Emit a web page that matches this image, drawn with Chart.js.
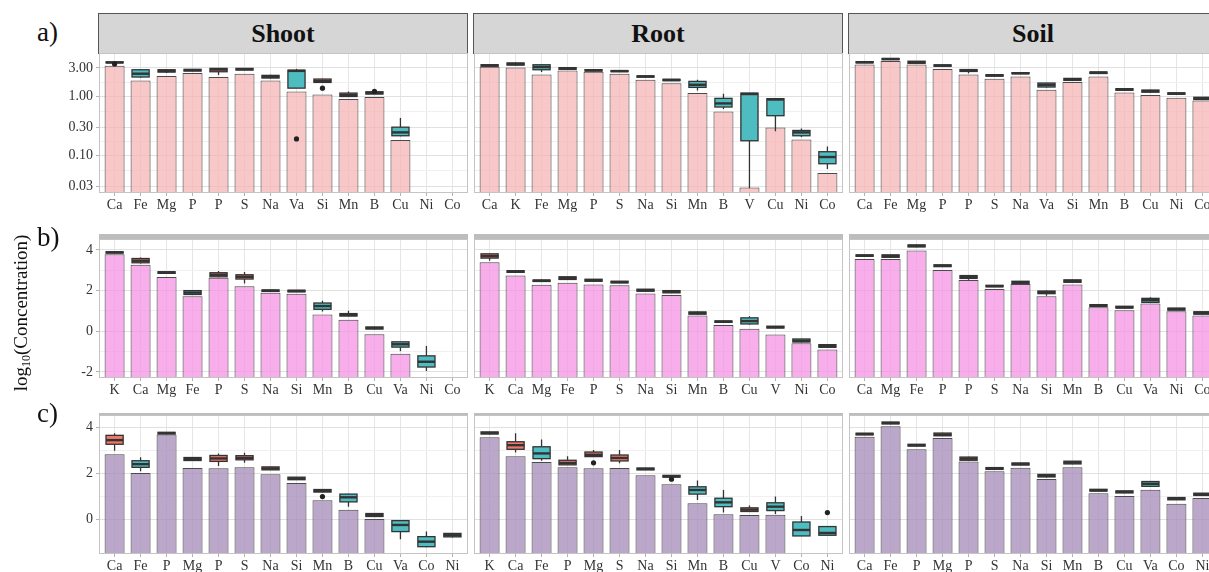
<!DOCTYPE html>
<html>
<head>
<meta charset="utf-8">
<script src="https://cdn.jsdelivr.net/npm/chart.js@4.4.1/dist/chart.umd.min.js"></script>
<style>
  html, body { margin: 0; padding: 0; background: #fff; }
  body { width: 1209px; height: 572px; overflow: hidden; position: relative;
         font-family: 'Liberation Serif', 'Times New Roman', serif; color: #1a1a1a; }
  canvas { position: absolute; }
  .strip { position: absolute; box-sizing: border-box; background: #D6D6D6;
           border: 1px solid #555; text-align: center; font-weight: bold;
           font-size: 26px; color: #111; }
  .thinstrip { position: absolute; background: #BDBDBD; }
  .tag { position: absolute; font-size: 27px; line-height: 27px; color: #111; }
  .ytitle { position: absolute; font-size: 19px; white-space: nowrap; color: #111;
            transform-origin: center center; }
  .ytitle sub { font-size: 12px; vertical-align: -3px; }
</style>
</head>
<body>
<script>
// ---------- facet titles and axis ticks ----------
const tissues = ['Shoot', 'Root', 'Soil'];
const rowTags = ['a)', 'b)', 'c)'];
const ticksA = [0.03, 0.1, 0.3, 1, 3];
const ticksB = [-2, 0, 2, 4];
const ticksC = [0, 2, 4];

// ---------- row a (log10 axis, concentrations) ----------
const shootLabelsA = ['Ca','Fe','Mg','P','P','S','Na','Va','Si','Mn','B','Cu','Ni','Co'];
const shootBarsA = [3.27, 1.85, 2.19, 2.46, 2.11, 2.40, 1.85, 1.20, 1.07, 0.90, 0.97, 0.182, null, null];
const shootBoxesA = [
  [3.62, 3.66, 3.72, 3.80, 3.84], [2.05, 2.11, 2.40, 2.80, 2.88], [2.46, 2.56, 2.66, 2.80, 2.84],
  [2.64, 2.66, 2.76, 2.84, 2.88], [2.28, 2.59, 2.82, 2.95, 2.98], [2.75, 2.77, 2.86, 2.95, 2.98],
  [2.00, 2.03, 2.12, 2.25, 2.30], [1.37, 1.37, 2.68, 2.75, 2.90], [1.71, 1.71, 1.80, 1.95, 1.98],
  [0.99, 0.99, 1.05, 1.13, 1.20], [1.09, 1.09, 1.13, 1.19, 1.19], [0.21, 0.215, 0.245, 0.30, 0.43],
  null, null];
const shootGroupsA = [1, 2, 1, 1, 1, 1, 1, 2, 1, 1, 1, 2, 0, 0];
const shootOutliersA = [[0, 3.50], [7, 0.19], [8, 1.37], [10, 1.21]];

const rootLabelsA = ['Ca','K','Fe','Mg','P','S','Na','Si','Mn','B','V','Cu','Ni','Co'];
const rootBarsA = [3.15, 3.07, 2.33, 2.73, 2.59, 2.40, 1.90, 1.65, 1.13, 0.554, 0.0288, 0.297, 0.186, 0.0504];
const rootBoxesA = [
  [3.19, 3.22, 3.30, 3.40, 3.44], [3.27, 3.35, 3.50, 3.65, 3.72], [2.56, 2.80, 3.11, 3.40, 3.45],
  [2.80, 2.85, 2.95, 3.04, 3.07], [2.62, 2.66, 2.74, 2.80, 2.84], [2.56, 2.60, 2.66, 2.70, 2.73],
  [2.08, 2.10, 2.16, 2.20, 2.22], [1.80, 1.83, 1.88, 1.93, 1.95], [1.25, 1.41, 1.56, 1.78, 1.90],
  [0.61, 0.657, 0.756, 0.92, 1.10], [0.028, 0.177, 1.09, 1.13, 1.13], [0.255, 0.469, 0.88, 0.908, 0.92],
  [0.205, 0.215, 0.245, 0.264, 0.286], [0.059, 0.0724, 0.094, 0.1155, 0.142]];
const rootGroupsA = [1, 1, 2, 1, 1, 1, 1, 1, 2, 2, 2, 2, 2, 2];
const rootOutliersA = [];

const soilLabelsA = ['Ca','Fe','Mg','P','P','S','Na','Va','Si','Mn','B','Cu','Ni','Co'];
const soilBarsA = [3.44, 3.93, 3.44, 2.88, 2.33, 1.98, 2.16, 1.29, 1.74, 2.16, 1.16, 1.05, 0.94, 0.85];
const soilBoxesA = [
  [3.64, 3.66, 3.75, 3.84, 3.87], [4.13, 4.15, 4.25, 4.33, 4.35], [3.54, 3.60, 3.75, 3.90, 3.93],
  [3.19, 3.21, 3.30, 3.38, 3.40], [2.45, 2.62, 2.72, 2.82, 2.84], [2.16, 2.18, 2.25, 2.31, 2.33],
  [2.37, 2.39, 2.45, 2.50, 2.52], [1.41, 1.43, 1.55, 1.67, 1.69], [1.83, 1.85, 1.93, 2.00, 2.03],
  [2.40, 2.42, 2.50, 2.57, 2.59], [1.25, 1.26, 1.30, 1.34, 1.35], [1.15, 1.17, 1.22, 1.27, 1.29],
  [1.06, 1.08, 1.11, 1.14, 1.16], [0.87, 0.88, 0.92, 0.96, 0.97]];
const soilGroupsA = [1, 1, 1, 1, 1, 1, 1, 2, 1, 1, 1, 1, 1, 1];
const soilOutliersA = [];

// ---------- row b (log10 values) ----------
const shootLabelsB = ['K','Ca','Mg','Fe','P','S','Na','Si','Mn','B','Cu','Va','Ni','Co'];
const shootBarsB = [3.79, 3.27, 2.67, 1.72, 2.63, 2.22, 1.90, 1.85, 0.82, 0.57, -0.15, -1.11, null, null];
const shootBoxesB = [
  [3.84, 3.85, 3.88, 3.91, 3.92], [3.33, 3.37, 3.47, 3.58, 3.63], [2.84, 2.85, 2.89, 2.93, 2.94],
  [1.78, 1.81, 1.90, 2.00, 2.03], [2.66, 2.68, 2.78, 2.88, 2.96], [2.35, 2.57, 2.68, 2.78, 2.91],
  [1.95, 1.96, 2.00, 2.03, 2.04], [1.93, 1.94, 1.98, 2.02, 2.03], [0.97, 1.08, 1.24, 1.39, 1.50],
  [0.74, 0.75, 0.80, 0.87, 1.01], [0.10, 0.11, 0.16, 0.21, 0.22], [-0.98, -0.78, -0.64, -0.52, -0.52],
  [-1.96, -1.76, -1.50, -1.21, -0.72], null];
const shootGroupsB = [1, 1, 1, 2, 1, 1, 1, 1, 2, 1, 1, 2, 2, 0];
const shootOutliersB = [];

const rootLabelsB = ['K','Ca','Mg','Fe','P','S','Na','Si','Mn','B','Cu','V','Ni','Co'];
const rootBarsB = [3.40, 2.75, 2.29, 2.39, 2.30, 2.27, 1.86, 1.78, 0.78, 0.31, 0.12, -0.16, -0.59, -0.90];
const rootBoxesB = [
  [3.47, 3.60, 3.70, 3.81, 3.84], [2.89, 2.90, 2.94, 2.98, 2.99], [2.44, 2.45, 2.49, 2.52, 2.53],
  [2.53, 2.55, 2.62, 2.68, 2.70], [2.45, 2.46, 2.51, 2.56, 2.57], [2.37, 2.38, 2.42, 2.46, 2.47],
  [1.96, 1.97, 2.02, 2.07, 2.08], [1.88, 1.89, 1.95, 2.00, 2.03], [0.83, 0.84, 0.90, 0.95, 0.97],
  [0.43, 0.44, 0.47, 0.51, 0.52], [0.32, 0.36, 0.50, 0.66, 0.74], [0.15, 0.16, 0.20, 0.25, 0.26],
  [-0.54, -0.53, -0.47, -0.38, -0.37], [-0.80, -0.79, -0.72, -0.66, -0.65]];
const rootGroupsB = [1, 1, 1, 1, 1, 1, 1, 1, 1, 1, 2, 1, 2, 1];
const rootOutliersB = [];

const soilLabelsB = ['Ca','Mg','Fe','P','P','S','Na','Si','Mn','B','Cu','Va','Ni','Co'];
const soilBarsB = [3.56, 3.56, 3.97, 3.01, 2.52, 2.08, 2.32, 1.72, 2.30, 1.18, 1.03, 1.36, 0.98, 0.77];
const soilBoxesB = [
  [3.68, 3.69, 3.72, 3.76, 3.77], [3.63, 3.64, 3.70, 3.76, 3.77], [4.14, 4.15, 4.20, 4.25, 4.26],
  [3.17, 3.18, 3.22, 3.27, 3.28], [2.53, 2.60, 2.68, 2.74, 2.76], [2.18, 2.19, 2.22, 2.26, 2.27],
  [2.35, 2.36, 2.41, 2.46, 2.47], [1.75, 1.85, 1.92, 1.98, 2.00], [2.40, 2.41, 2.47, 2.53, 2.55],
  [1.21, 1.22, 1.26, 1.31, 1.32], [1.13, 1.14, 1.18, 1.23, 1.24], [1.41, 1.42, 1.53, 1.62, 1.67],
  [1.03, 1.04, 1.09, 1.14, 1.15], [0.83, 0.84, 0.90, 0.96, 0.97]];
const soilGroupsB = [1, 1, 1, 1, 1, 1, 1, 1, 1, 1, 1, 2, 1, 1];
const soilOutliersB = [];

// ---------- row c (log10 values) ----------
const shootLabelsC = ['Ca','Fe','P','Mg','P','S','Na','Si','Mn','B','Cu','Va','Co','Ni'];
const shootBarsC = [2.84, 2.02, 3.71, 2.24, 2.23, 2.27, 1.97, 1.59, 0.83, 0.42, 0.01, null, null, null];
const shootBoxesC = [
  [3.00, 3.28, 3.46, 3.67, 3.76], [2.10, 2.27, 2.41, 2.56, 2.71], [3.72, 3.73, 3.77, 3.80, 3.81],
  [2.56, 2.57, 2.63, 2.70, 2.71], [2.33, 2.53, 2.66, 2.79, 2.88], [2.47, 2.60, 2.68, 2.78, 2.91],
  [2.15, 2.16, 2.22, 2.29, 2.30], [1.72, 1.73, 1.78, 1.84, 1.85], [1.18, 1.19, 1.24, 1.30, 1.31],
  [0.55, 0.76, 0.96, 1.10, 1.12], [0.11, 0.12, 0.18, 0.25, 0.26], [-0.87, -0.54, -0.25, -0.06, -0.03],
  [-1.22, -1.20, -0.98, -0.76, -0.54], [-0.80, -0.77, -0.70, -0.62, -0.60]];
const shootGroupsC = [1, 2, 1, 1, 1, 1, 1, 1, 1, 2, 1, 2, 2, 2];
const shootOutliersC = [[8, 0.99]];

const rootLabelsC = ['K','Ca','Fe','P','Mg','S','Na','Si','Mn','B','Cu','V','Co','Ni'];
const rootBarsC = [3.59, 2.76, 2.50, 2.27, 2.23, 2.24, 1.93, 1.53, 0.70, 0.22, 0.19, 0.20, null, null];
const rootBoxesC = [
  [3.72, 3.73, 3.77, 3.82, 3.83], [2.92, 3.06, 3.24, 3.39, 3.76], [2.56, 2.65, 2.88, 3.17, 3.49],
  [2.37, 2.38, 2.46, 2.58, 2.76], [2.73, 2.74, 2.82, 2.94, 3.03], [2.45, 2.55, 2.68, 2.81, 3.03],
  [2.15, 2.16, 2.20, 2.24, 2.25], [1.83, 1.84, 1.88, 1.92, 1.93], [0.84, 1.10, 1.28, 1.42, 1.69],
  [0.29, 0.55, 0.74, 0.92, 1.28], [0.33, 0.34, 0.42, 0.50, 0.60], [0.23, 0.38, 0.55, 0.72, 0.99],
  [-0.73, -0.73, -0.47, -0.12, 0.14], [-0.70, -0.70, -0.60, -0.32, -0.30]];
const rootGroupsC = [1, 1, 2, 1, 1, 1, 1, 1, 2, 2, 1, 2, 2, 2];
const rootOutliersC = [[4, 2.47], [7, 1.75], [13, 0.29]];

const soilLabelsC = ['Ca','Fe','P','Mg','P','S','Na','Si','Mn','B','Cu','Va','Co','Ni'];
const soilBarsC = [3.61, 4.07, 3.06, 3.55, 2.53, 2.10, 2.25, 1.76, 2.27, 1.14, 1.02, 1.29, 0.68, 0.93];
const soilBoxesC = [
  [3.68, 3.69, 3.73, 3.76, 3.77], [4.16, 4.17, 4.21, 4.25, 4.26], [3.19, 3.20, 3.24, 3.28, 3.29],
  [3.64, 3.65, 3.70, 3.77, 3.78], [2.56, 2.58, 2.65, 2.72, 2.73], [2.17, 2.18, 2.22, 2.26, 2.27],
  [2.36, 2.37, 2.42, 2.46, 2.47], [1.83, 1.85, 1.90, 1.96, 1.98], [2.41, 2.42, 2.48, 2.54, 2.55],
  [1.22, 1.23, 1.27, 1.31, 1.32], [1.14, 1.15, 1.20, 1.24, 1.25], [1.42, 1.44, 1.55, 1.65, 1.67],
  [0.84, 0.85, 0.90, 0.95, 0.96], [1.03, 1.04, 1.09, 1.14, 1.15]];
const soilGroupsC = [1, 1, 1, 1, 1, 1, 1, 1, 1, 1, 1, 2, 1, 1];
const soilOutliersC = [];

// ---------- layout and style ----------
const FONT = "'Liberation Serif', 'Times New Roman', serif";
const colLeft = [99, 474, 849];
const plotW = 369;
const rowTop = [53, 239, 415];
const rowH = [140, 139, 139];
const yAxisW = 50;
const xAxisH = 22;
const rowStyle = [
  { type: 'logarithmic', min: 0.0232, max: 5.37, ticks: ticksA, fill: 'rgba(246,182,182,0.75)', fmt: v => v.toFixed(2) },
  { type: 'linear', min: -2.30, max: 4.54, ticks: ticksB, fill: 'rgba(247,147,230,0.75)', fmt: v => String(v) },
  { type: 'linear', min: -1.52, max: 4.56, ticks: ticksC, fill: 'rgba(167,142,186,0.78)', fmt: v => String(v) }
];
const groupFill = { 1: '#F2776A', 2: '#4DBDC2' };

const panels = [
  [shootLabelsA, shootBarsA, shootBoxesA, shootGroupsA, shootOutliersA],
  [rootLabelsA, rootBarsA, rootBoxesA, rootGroupsA, rootOutliersA],
  [soilLabelsA, soilBarsA, soilBoxesA, soilGroupsA, soilOutliersA],
  [shootLabelsB, shootBarsB, shootBoxesB, shootGroupsB, shootOutliersB],
  [rootLabelsB, rootBarsB, rootBoxesB, rootGroupsB, rootOutliersB],
  [soilLabelsB, soilBarsB, soilBoxesB, soilGroupsB, soilOutliersB],
  [shootLabelsC, shootBarsC, shootBoxesC, shootGroupsC, shootOutliersC],
  [rootLabelsC, rootBarsC, rootBoxesC, rootGroupsC, rootOutliersC],
  [soilLabelsC, soilBarsC, soilBoxesC, soilGroupsC, soilOutliersC]
];

// minor grid positions: midpoints between major breaks (in the axis' own space)
function minorBreaks(major, isLog) {
  const out = [];
  for (let i = 0; i + 1 < major.length; i++) {
    out.push(isLog ? Math.sqrt(major[i] * major[i + 1]) : (major[i] + major[i + 1]) / 2);
  }
  return out;
}

// box-and-whisker layer drawn over the bars, plus the panel frame
function boxLayer(boxes, groups, outliers) {
  return {
    id: 'boxLayer',
    afterDatasetsDraw(chart) {
      const { ctx, scales: { x, y } } = chart;
      const half = (x.getPixelForValue(2) - x.getPixelForValue(1)) * 0.33;
      ctx.save();
      ctx.lineCap = 'butt';
      boxes.forEach((s, i) => {
        if (!s) return;
        const cx = x.getPixelForValue(i + 1);
        const [lo, q1, md, q3, hi] = s.map(v => y.getPixelForValue(v));
        ctx.strokeStyle = '#333';
        ctx.lineWidth = 1.3;
        ctx.beginPath();
        ctx.moveTo(cx, hi); ctx.lineTo(cx, q3);
        ctx.moveTo(cx, q1); ctx.lineTo(cx, lo);
        ctx.stroke();
        ctx.fillStyle = groupFill[groups[i]] || groupFill[1];
        ctx.fillRect(cx - half, q3, half * 2, q1 - q3);
        ctx.strokeRect(cx - half, q3, half * 2, q1 - q3);
        ctx.lineWidth = 2.4;
        ctx.beginPath();
        ctx.moveTo(cx - half, md); ctx.lineTo(cx + half, md);
        ctx.stroke();
      });
      ctx.fillStyle = '#222';
      outliers.forEach(([i, v]) => {
        ctx.beginPath();
        ctx.arc(x.getPixelForValue(i + 1), y.getPixelForValue(v), 2.6, 0, Math.PI * 2);
        ctx.fill();
      });
      const a = chart.chartArea;
      ctx.strokeStyle = '#C4C4C4';
      ctx.lineWidth = 1;
      ctx.strokeRect(a.left + 0.5, a.top + 0.5, a.right - a.left - 1, a.bottom - a.top - 1);
      ctx.restore();
    }
  };
}

function makePanel(row, col, spec) {
  const [labels, bars, boxes, groups, outliers] = spec;
  const rs = rowStyle[row];
  const isLog = rs.type === 'logarithmic';
  const minors = minorBreaks(rs.ticks, isLog);
  const allTicks = rs.ticks.concat(minors).filter(v => v >= rs.min && v <= rs.max).sort((a, b) => a - b);
  const withAxis = col === 0;
  const cv = document.createElement('canvas');
  const w = plotW + (withAxis ? yAxisW : 0);
  const h = rowH[row] + xAxisH;
  cv.width = w; cv.height = h;
  cv.style.left = (colLeft[col] - (withAxis ? yAxisW : 0)) + 'px';
  cv.style.top = rowTop[row] + 'px';
  cv.style.width = w + 'px'; cv.style.height = h + 'px';
  document.body.appendChild(cv);

  new Chart(cv, {
    type: 'bar',
    data: {
      datasets: [{
        data: bars.map((v, i) => ({ x: i + 1, y: v })),
        backgroundColor: rs.fill,
        borderColor: '#4a4a4a',
        borderWidth: 1,
        borderSkipped: false,
        base: rs.min,
        barPercentage: 0.77,
        categoryPercentage: 1
      }]
    },
    options: {
      responsive: false,
      animation: false,
      devicePixelRatio: 1,
      layout: { padding: 0 },
      plugins: { legend: { display: false }, tooltip: { enabled: false } },
      scales: {
        x: {
          type: 'linear', min: 0.4, max: 14.6, bounds: 'data', offset: false,
          afterBuildTicks: s => { s.ticks = labels.map((_, i) => ({ value: i + 1 })); },
          afterFit: s => { s.height = xAxisH; s.paddingLeft = 0; s.paddingRight = 0; },
          ticks: { autoSkip: false, maxRotation: 0, minRotation: 0, padding: 1,
                   color: '#333', font: { family: FONT, size: 14 },
                   callback: v => labels[v - 1] ?? '' },
          grid: { offset: false, color: '#E6E6E6', lineWidth: 1, tickLength: 3, tickColor: '#B3B3B3' },
          border: { display: false }
        },
        y: {
          type: rs.type, min: rs.min, max: rs.max, bounds: 'data',
          afterBuildTicks: s => { s.ticks = allTicks.map(v => ({ value: v })); },
          afterFit: s => { s.width = withAxis ? yAxisW : 0; s.paddingTop = 0; s.paddingBottom = 0; },
          ticks: { display: withAxis, autoSkip: false, padding: 3, color: '#333',
                   font: { family: FONT, size: 14 },
                   callback: v => rs.ticks.includes(v) ? rs.fmt(v) : '' },
          grid: {
            color: c => rs.ticks.includes(c.tick.value) ? '#E0E0E0' : '#F0F0F0',
            lineWidth: 1,
            drawTicks: withAxis,
            tickLength: 3,
            tickColor: c => rs.ticks.includes(c.tick.value) ? '#B3B3B3' : 'rgba(0,0,0,0)'
          },
          border: { display: false }
        }
      }
    },
    plugins: [boxLayer(boxes, groups, outliers)]
  });
}

// facet strips
tissues.forEach((name, c) => {
  const d = document.createElement('div');
  d.className = 'strip';
  d.style.left = (colLeft[c] - 1) + 'px';
  d.style.top = '13px';
  d.style.width = (plotW + 1) + 'px';
  d.style.height = '41px';
  d.style.lineHeight = '39px';
  d.textContent = name;
  document.body.appendChild(d);
  [[234, 5], [413, 3]].forEach(([t, hh]) => {
    const s = document.createElement('div');
    s.className = 'thinstrip';
    s.style.left = colLeft[c] + 'px';
    s.style.top = t + 'px';
    s.style.width = plotW + 'px';
    s.style.height = hh + 'px';
    document.body.appendChild(s);
  });
});

panels.forEach((spec, k) => makePanel(Math.floor(k / 3), k % 3, spec));

// row tags
[19, 224, 400].forEach((t, r) => {
  const d = document.createElement('div');
  d.className = 'tag';
  d.style.left = '37px';
  d.style.top = t + 'px';
  d.textContent = rowTags[r];
  document.body.appendChild(d);
});

// shared y-axis title
const yt = document.createElement('div');
yt.className = 'ytitle';
yt.innerHTML = 'log<sub>10</sub>(Concentration)';
document.body.appendChild(yt);
const r = yt.getBoundingClientRect();
yt.style.left = (22 - r.width / 2) + 'px';
yt.style.top = (313 - r.height / 2) + 'px';
yt.style.transform = 'rotate(-90deg)';
</script>
</body>
</html>
